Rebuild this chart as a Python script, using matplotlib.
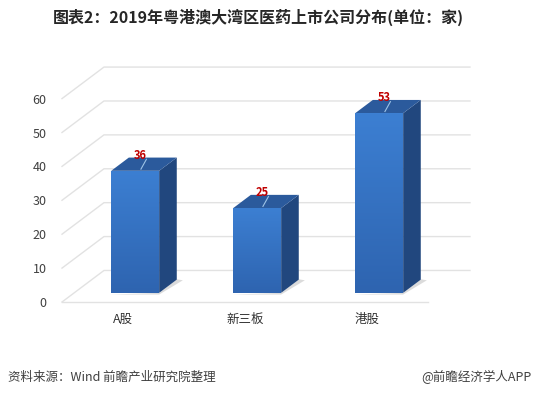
import numpy as np
import matplotlib
matplotlib.use("Agg")
import matplotlib.pyplot as plt
from matplotlib.patches import Polygon, Rectangle
from matplotlib.colors import LinearSegmentedColormap

plt.rcParams['font.family'] = ['Noto Sans CJK SC', 'DejaVu Sans']

# chart data
categories = ["A股", "新三板", "港股"]
values = [36, 25, 53]
yticks = [0, 10, 20, 30, 40, 50, 60]
title = "图表2：2019年粤港澳大湾区医药上市公司分布(单位：家)"
source = "资料来源：Wind 前瞻产业研究院整理"
credit = "@前瞻经济学人APP"

# pseudo-3D geometry (data units)
ox, oy = 0.344, 9.3      # full floor depth offset
d0, d1 = 0.29, 0.71      # bar front / back depth
bw = 0.393               # bar width

W, H = 536, 396
fig = plt.figure(figsize=(W / 100, H / 100), dpi=100)

# axes placed so value 0 sits on the front floor edge
ax = fig.add_axes([62 / W, (H - 302) / H, 418 / W, 247 / H])
ax.set_xlim(-0.5, -0.5 + 418 / 122)
ax.set_ylim(0, 247 / 3.39)
for s in ax.spines.values():
    s.set_visible(False)

ax.set_yticks(yticks)
ax.set_yticklabels([str(t) for t in yticks])
ax.set_xticks(range(len(categories)))
ax.set_xticklabels(categories)
ax.tick_params(axis='y', length=0, pad=11, labelsize=9, labelcolor='#404040')
ax.tick_params(axis='x', length=0, pad=8, labelsize=9, labelcolor='#333333')

grid_c = '#e2e2e2'
x0, x1 = -0.5, len(categories) - 0.5
# perspective gridlines: floor diagonal then back wall line
for t in yticks:
    ax.plot([x0, x0 + ox, x1 + ox], [t, t + oy, t + oy], color=grid_c, lw=1.0,
            clip_on=False, zorder=1)
ax.plot([x0, x1], [0, 0], color=grid_c, lw=1.0, clip_on=False, zorder=1)

grad = np.linspace(0, 1, 100).reshape(-1, 1)
front_cmap = LinearSegmentedColormap.from_list('f', ['#3c7fd2', '#2e64b0'])

for i, v in enumerate(values):
    xl = i - bw / 2
    xr = i + bw / 2
    # soft shadow at the foot of the bar
    sh = Polygon([(xl + d0 * ox - 0.01, d0 * oy - 0.5), (xr + d0 * ox, d0 * oy - 0.5),
                  (xr + d1 * ox + 0.05, d1 * oy - 0.2), (xr + d1 * ox, d1 * oy + 0.1),
                  (xr + d0 * ox, d0 * oy)],
                 closed=True, facecolor='#9a9a9a', edgecolor='none', alpha=0.35,
                 zorder=2, clip_on=False)
    ax.add_patch(sh)
    # side face
    side = Polygon([(xr + d0 * ox, d0 * oy), (xr + d1 * ox, d1 * oy),
                    (xr + d1 * ox, v + d1 * oy), (xr + d0 * ox, v + d0 * oy)],
                   closed=True, facecolor='#21477e', edgecolor='none', zorder=3)
    ax.add_patch(side)
    # top face
    top = Polygon([(xl + d0 * ox, v + d0 * oy), (xr + d0 * ox, v + d0 * oy),
                   (xr + d1 * ox, v + d1 * oy), (xl + d1 * ox, v + d1 * oy)],
                  closed=True, facecolor='#2b5a9c', edgecolor='none', zorder=3)
    ax.add_patch(top)
    # front face with gradient
    front = Rectangle((xl + d0 * ox, d0 * oy), bw, v, facecolor='none',
                      edgecolor='none', zorder=4)
    ax.add_patch(front)
    im = ax.imshow(grad, cmap=front_cmap, aspect='auto', origin='upper',
                   extent=(xl + d0 * ox, xr + d0 * ox, d0 * oy, v + d0 * oy),
                   zorder=4)
    im.set_clip_path(front)
    # leader line and value label
    cx = i + 0.5 * (d0 + d1) * ox
    ax.plot([cx - 0.025, cx + 0.02], [v + d0 * oy + 0.5, v + d1 * oy - 0.5],
            color='#9dc3e6', lw=0.8, zorder=5)
    ax.text(cx - 0.03, v + d1 * oy + 0.6, str(v), ha='center', va='center',
            fontsize=8, color='#c00000', fontweight='bold', zorder=6)

ax.set_xlim(-0.5, -0.5 + 418 / 122)
ax.set_ylim(0, 247 / 3.39)

fig.text(258 / W, 1 - 17 / H, title, ha='center', va='center', fontsize=11.5,
         fontweight='bold', color='#262626')
fig.text(8 / W, 1 - 377 / H, source, ha='left', va='center', fontsize=9,
         color='#404040')
fig.text(531 / W, 1 - 377 / H, credit, ha='right', va='center', fontsize=9,
         color='#404040')

fig.savefig("out.png", dpi=100)
